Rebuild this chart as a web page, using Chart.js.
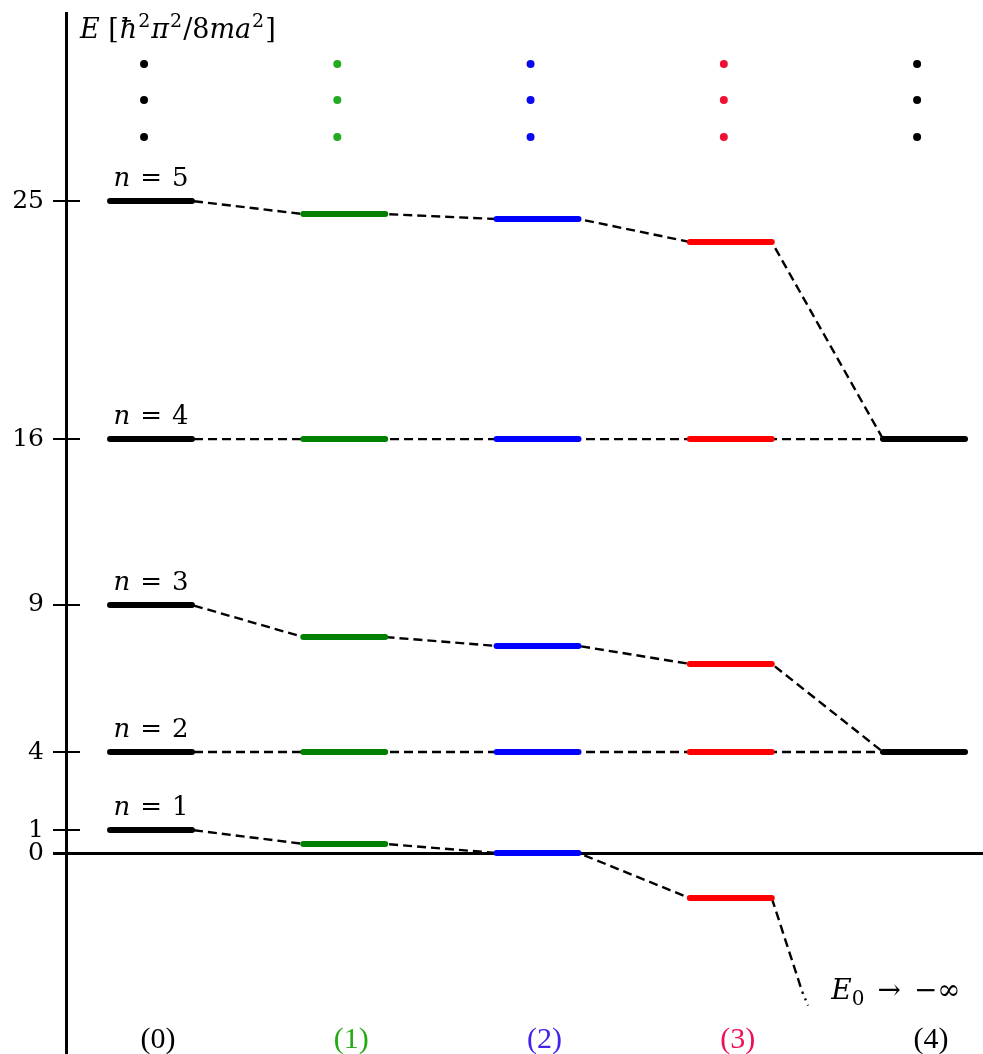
<!DOCTYPE html>
<html>
<head>
<meta charset="utf-8">
<script src="https://cdn.jsdelivr.net/npm/chart.js@4/dist/chart.umd.min.js"></script>
<style>
  html, body { margin: 0; padding: 0; background: #fff; overflow: hidden; }
  #wrap { width: 983px; height: 1054px; position: relative; }
</style>
</head>
<body>
<div id="wrap"><canvas id="c"></canvas></div>
<script>
// ---------------- data ----------------
const columns = [0, 1, 2, 3, 4];
const columnLabels = ['(0)', '(1)', '(2)', '(3)', '(4)'];
const levelNames = ['1', '2', '3', '4', '5'];
// drawn energy of each level in each column (null = not present)
const level1 = [0.88, 0.35, 0.00, -1.73, null];
const level2 = [3.87, 3.87, 3.87, 3.87, 3.87];
const level3 = [9.51, 8.28, 7.94, 7.25, 3.87];
const level4 = [15.87, 15.87, 15.87, 15.87, 15.87];
const level5 = [25.00, 24.50, 24.31, 23.43, 15.87];
// n = 1 keeps falling (E0 -> -infinity)
const level1TailX = [3.37, 3.40];
const level1TailE = [-5.33, -5.85];
// dots "..." above the levels
const dotEnergies = [30.25, 28.87, 27.45];
// y-axis ticks
const yTickValues = [0, 0.88, 3.87, 9.51, 15.87, 25];
const yTickLabels = ['0', '1', '4', '9', '16', '25'];

// ---------------- styles ----------------
const barColors = ['#000000', '#008000', '#0000ff', '#ff0000', '#000000'];
const dotColors = ['#000000', '#22aa22', '#0a0af0', '#ee1133', '#000000'];
const labelColors = ['#000000', '#22aa11', '#4422ee', '#ee1155', '#000000'];
const HW = 0.212;          // half width of a level bar (x units)
const FONT = '"DejaVu Serif", "Liberation Serif", serif';
const FONT2 = '"Liberation Serif", "DejaVu Serif", serif';

const levels = [level1, level2, level3, level4, level5];

// ---------------- datasets ----------------
const datasets = [];

// dashed connectors
levels.forEach((lv, li) => {
  const pts = [];
  columns.forEach(c => {
    const v = lv[c];
    if (v === null) return;
    pts.push({ x: c - HW, y: v }, { x: c + HW, y: v });
  });
  if (li === 0) pts.push({ x: level1TailX[0], y: level1TailE[0] });
  datasets.push({
    type: 'line', data: pts, borderColor: '#000', borderWidth: 2.4,
    borderDash: [9, 5], pointRadius: 0, fill: false, order: 2, tension: 0
  });
});
// dotted end of n = 1
datasets.push({
  type: 'line',
  data: level1TailX.map((x, i) => ({ x: x, y: level1TailE[i] })),
  borderColor: '#000', borderWidth: 2.4, borderDash: [2, 5],
  pointRadius: 0, fill: false, order: 2
});

// level bars per column
columns.forEach(c => {
  const pts = [];
  const seen = new Set();
  levels.forEach(lv => {
    const v = lv[c];
    if (v === null || seen.has(v)) return;
    seen.add(v);
    pts.push({ x: c - HW, y: v }, { x: c + HW, y: v }, { x: c, y: null });
  });
  datasets.push({
    type: 'line', data: pts, borderColor: barColors[c], borderWidth: 6,
    borderCapStyle: 'round', pointRadius: 0, fill: false, spanGaps: false, order: 1
  });
});

// dots
columns.forEach(c => {
  datasets.push({
    type: 'scatter',
    data: dotEnergies.map(e => ({ x: c - 0.036, y: e })),
    backgroundColor: dotColors[c], borderColor: dotColors[c],
    pointRadius: 4, borderWidth: 0, order: 0
  });
});

// ---------------- rich text helper ----------------
function drawRich(ctx, x, y, parts, align, size, color, family) {
  const fam = family || FONT;
  const small = Math.round(size * 0.72);
  const fontFor = p => (p.italic ? 'italic ' : '') + ((p.sup || p.sub) ? small : size) + 'px ' + fam;
  let total = 0;
  parts.forEach(p => {
    ctx.font = fontFor(p);
    p.w = ctx.measureText(p.t).width + (p.gapL || 0) + (p.gapR || 0);
    total += p.w;
  });
  let cx = align === 'center' ? x - total / 2 : (align === 'right' ? x - total : x);
  ctx.fillStyle = color;
  ctx.textAlign = 'left';
  ctx.textBaseline = 'alphabetic';
  parts.forEach(p => {
    ctx.font = fontFor(p);
    let dy = 0;
    if (p.sup) dy = -size * 0.42;
    if (p.sub) dy = size * 0.24;
    ctx.fillText(p.t, cx + (p.gapL || 0), y + dy);
    cx += p.w;
  });
}

const annot = {
  id: 'annot',
  afterDraw(chart) {
    const ctx = chart.ctx;
    const xs = chart.scales.x, ys = chart.scales.y;
    const left = chart.chartArea.left;
    ctx.save();
    // inner halves of the y tick marks
    ctx.strokeStyle = '#000';
    yTickValues.forEach(v => {
      if (v === 0) return;
      const py = Math.round(ys.getPixelForValue(v));
      ctx.lineWidth = 2;
      ctx.beginPath();
      ctx.moveTo(left, py);
      ctx.lineTo(left + 14, py);
      ctx.stroke();
    });
    // axis title
    drawRich(ctx, left + 14, chart.chartArea.top + 25, [
      { t: 'E', italic: true },
      { t: ' [', gapR: 1 },
      { t: 'ħ', italic: true },
      { t: '2', sup: true, gapL: 1, gapR: 1 },
      { t: 'π', italic: true },
      { t: '2', sup: true, gapL: 1, gapR: 1 },
      { t: '/8' },
      { t: 'ma', italic: true },
      { t: '2', sup: true, gapL: 1, gapR: 1 },
      { t: ']' }
    ], 'left', 27, '#000');
    // n = k labels above column 0
    levels.forEach((lv, li) => {
      const px = xs.getPixelForValue(0);
      const py = ys.getPixelForValue(lv[0]) - 15;
      drawRich(ctx, px, py, [
        { t: 'n', italic: true },
        { t: '=', gapL: 10, gapR: 10 },
        { t: levelNames[li] }
      ], 'center', 26, '#000');
    });
    // column labels
    columns.forEach(c => {
      const px = xs.getPixelForValue(c) + 7;
      const py = ys.getPixelForValue(-7.09) + 10;
      drawRich(ctx, px, py, [{ t: columnLabels[c] }], 'center', 30, labelColors[c], FONT2);
    });
    // E0 -> -infinity
    drawRich(ctx, xs.getPixelForValue(3.52), ys.getPixelForValue(-5.2) + 10, [
      { t: 'E', italic: true },
      { t: '0', sub: true },
      { t: '→', gapL: 13, gapR: 13 },
      { t: '−∞' }
    ], 'left', 28, '#000');
    ctx.restore();
  }
};

new Chart(document.getElementById('c'), {
  type: 'line',
  data: { datasets: datasets },
  options: {
    responsive: true,
    maintainAspectRatio: false,
    animation: false,
    events: [],
    layout: { autoPadding: false, padding: { top: 13, left: 0, right: 0, bottom: 0 } },
    plugins: { legend: { display: false }, tooltip: { enabled: false } },
    scales: {
      x: {
        type: 'linear', display: false, min: -0.4398, max: 4.305
      },
      y: {
        type: 'linear', min: -7.707, max: 32.209,
        afterFit(scale) { scale.width = 66; scale.paddingTop = 0; scale.paddingBottom = 0; },
        afterBuildTicks(scale) { scale.ticks = yTickValues.map(v => ({ value: v })); },
        border: { display: true, color: '#000', width: 3 },
        grid: {
          drawOnChartArea: true,
          color: ctx => (ctx.tick && ctx.tick.value === 0) ? '#000' : 'rgba(0,0,0,0)',
          lineWidth: ctx => (ctx.tick && ctx.tick.value === 0) ? 3 : 0,
          tickColor: '#000',
          tickWidth: ctx => (ctx.tick && ctx.tick.value === 0) ? 3 : 2,
          tickLength: 13
        },
        ticks: {
          autoSkip: false,
          padding: 9,
          color: '#000',
          font: { family: FONT, size: 25 },
          callback: (v, i) => yTickLabels[i]
        }
      }
    }
  },
  plugins: [annot]
});
</script>
</body>
</html>
